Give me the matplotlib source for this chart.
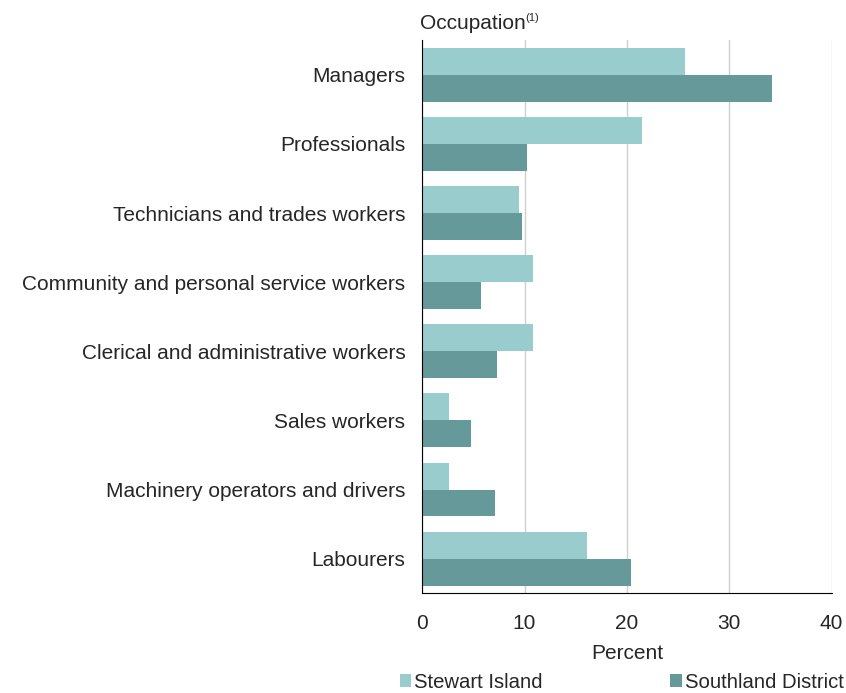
import matplotlib
matplotlib.use("Agg")
import matplotlib.pyplot as plt
import numpy as np

plt.rcParams['font.family'] = ['Liberation Sans', 'DejaVu Sans']

categories = ["Managers", "Professionals", "Technicians and trades workers",
              "Community and personal service workers", "Clerical and administrative workers",
              "Sales workers", "Machinery operators and drivers", "Labourers"]
stewart = [25.7, 21.5, 9.5, 10.8, 10.8, 2.6, 2.6, 16.1]
southland = [34.2, 10.2, 9.8, 5.7, 7.3, 4.8, 7.1, 20.4]
series_names = ["Stewart Island", "Southland District"]
xticks = [0, 10, 20, 30, 40]

c1, c2 = "#99CCCC", "#669999"
tc = "#262626"
fs = 15

fig = plt.figure(figsize=(8.46, 6.93), dpi=100)
ax = fig.add_axes([0.499, 0.144, 0.484, 0.798])

y = np.arange(len(categories))
h = 0.39
ax.barh(y - h/2, stewart, height=h, color=c1, label=series_names[0], zorder=3)
ax.barh(y + h/2, southland, height=h, color=c2, label=series_names[1], zorder=3)

ax.set_ylim(len(categories) - 0.5, -0.5)
ax.set_xlim(0, 40)
ax.set_xticks(xticks)
ax.set_yticks(y)
ax.set_yticklabels(categories, fontsize=fs, color=tc)
ax.tick_params(axis='x', labelsize=fs, length=0, pad=15, colors=tc)
ax.tick_params(axis='y', length=0, pad=12)
ax.grid(axis='x', color="#CFCFCF", linewidth=1.0, zorder=0)
for s in ["top", "right"]:
    ax.spines[s].set_visible(False)
ax.spines["left"].set_color("black")
ax.spines["bottom"].set_color("black")
ax.spines["left"].set_zorder(4)
ax.set_xlabel("Percent", fontsize=fs, color=tc, labelpad=8)

fig.text(0.496, 0.958, "Occupation", fontsize=fs, color=tc, ha="left", va="baseline")
fig.text(0.621, 0.970, "(1)", fontsize=8, color=tc, ha="left", va="baseline")

leg = fig.legend(loc="lower left", bbox_to_anchor=(0.468, -0.004), ncol=2, frameon=False,
                 fontsize=14.6, handlelength=0.55, handleheight=0.55, handletextpad=0.15,
                 columnspacing=6.3, borderpad=0.2, borderaxespad=0)
for t in leg.get_texts():
    t.set_color(tc)

fig.savefig("out.png", dpi=100)
